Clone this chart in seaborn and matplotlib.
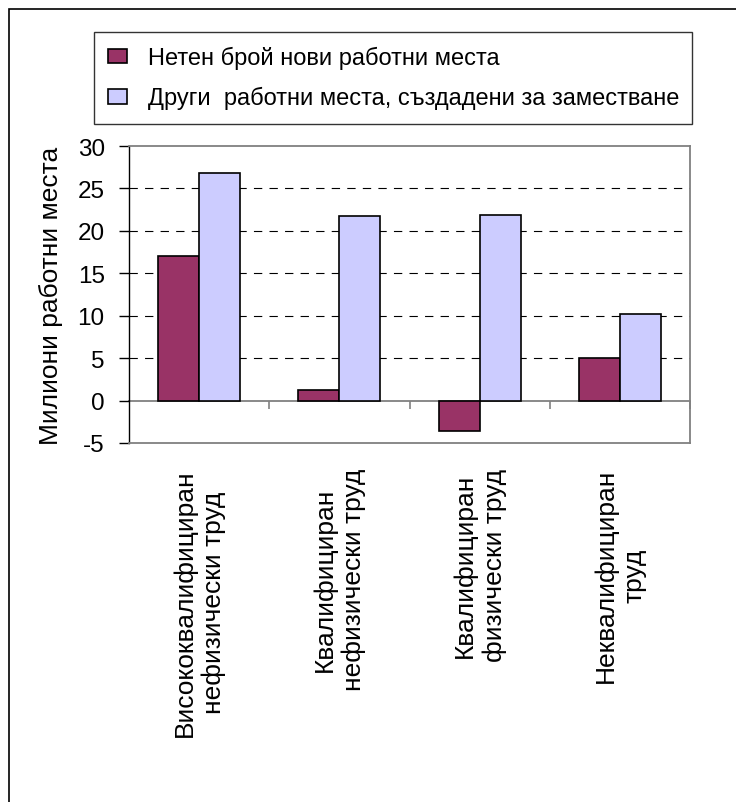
import matplotlib
matplotlib.use("Agg")
import matplotlib.pyplot as plt
from matplotlib.patches import Rectangle
import seaborn as sns
import pandas as pd

# Job categories and the two series (millions of jobs)
categories = [
    "Висококвалифициран\nнефизически труд",
    "Квалифициран\nнефизически труд",
    "Квалифициран\nфизически труд",
    "Неквалифициран\nтруд",
]
series_names = [
    "Нетен брой нови работни места",
    "Други  работни места, създадени за заместване",
]
net_new = [17.0, 1.2, -3.6, 5.0]
replacement = [26.8, 21.7, 21.9, 10.2]
y_ticks = [-5, 0, 5, 10, 15, 20, 25, 30]
y_label = "Милиони работни места"

df = pd.DataFrame({
    "category": categories * 2,
    "series": [series_names[0]] * 4 + [series_names[1]] * 4,
    "value": net_new + replacement,
})

sns.set_theme(style="white")
plt.rcParams["font.family"] = ["Liberation Sans", "DejaVu Sans"]
plt.rcParams["axes.unicode_minus"] = False
plt.rcParams["text.color"] = "black"
plt.rcParams["xtick.color"] = "black"
plt.rcParams["ytick.color"] = "black"
plt.rcParams["axes.labelcolor"] = "black"

W, H = 736, 803
fig = plt.figure(figsize=(W / 100, H / 100), dpi=100)
ax = fig.add_axes([129 / W, 1 - 444 / H, (690 - 129) / W, (444 - 147) / H])

palette = {series_names[0]: "#993366", series_names[1]: "#CCCCFF"}
sns.barplot(data=df, x="category", y="value", hue="series", order=categories,
            hue_order=series_names, palette=palette, width=0.585, gap=0,
            edgecolor="black", linewidth=1.2, saturation=1, ax=ax,
            legend=True, zorder=3)

ax.set_ylim(-5, 30)
ax.set_xlim(-0.5, 3.5)
ax.set_yticks(y_ticks)
ax.tick_params(axis="y", which="major", direction="out", length=7.5, width=1,
               color="black", pad=10, labelsize=17.5, left=True)
ax.set_ylabel(y_label, fontsize=19)
ax.yaxis.set_label_coords(-0.118, 0.5)
ax.set_xlabel("")
ax.set_xticks(range(len(categories)))
ax.set_xticklabels(categories, rotation=90, ha="center", va="top",
                   multialignment="center", fontsize=19, linespacing=1.25)
ax.tick_params(axis="x", length=0, pad=18)

# dashed gridlines between the zero line and the top border
for v in y_ticks:
    if 0 < v < 30:
        ax.axhline(v, color="black", lw=0.8, ls=(0, (7.5, 6.5)), zorder=1)

# plot-area border
for side in ["top", "right", "bottom"]:
    ax.spines[side].set_color("#808080")
    ax.spines[side].set_linewidth(1.3)
ax.spines["left"].set_color("black")
ax.spines["left"].set_linewidth(1)

# category axis crossing at zero, with tick marks between groups
zero_frac = (0 - (-5)) / 35
sec = ax.secondary_xaxis(zero_frac)
sec.set_xticks([0.5, 1.5, 2.5, 3.5])
sec.set_xticklabels([])
sec.tick_params(direction="out", length=6, width=1.2, color="#808080")
sec.spines["bottom"].set_color("#808080")
sec.spines["bottom"].set_linewidth(1.3)

# legend
handles, labels = ax.get_legend_handles_labels()
ax.legend_.remove()
leg = fig.legend(handles, labels, loc="upper left",
                 bbox_to_anchor=(94 / W, 1 - 33 / H - 0.01, (692 - 94) / W, 0.01),
                 mode="expand", fontsize=17, frameon=True, fancybox=False,
                 edgecolor="black", borderpad=0.6, labelspacing=0.72,
                 handlelength=0.8, handleheight=0.6, handletextpad=0.9,
                 borderaxespad=0)
leg.get_frame().set_linewidth(1)
for h in leg.legend_handles:
    h.set_edgecolor("black")
    h.set_linewidth(1.2)

# outer chart frame
fig.patches.append(Rectangle((9 / W, -0.1), 1.2, 1 - 10 / H + 0.1,
                             transform=fig.transFigure, fill=False,
                             edgecolor="black", lw=1.2))

fig.savefig("out.png", dpi=100, facecolor="white")
